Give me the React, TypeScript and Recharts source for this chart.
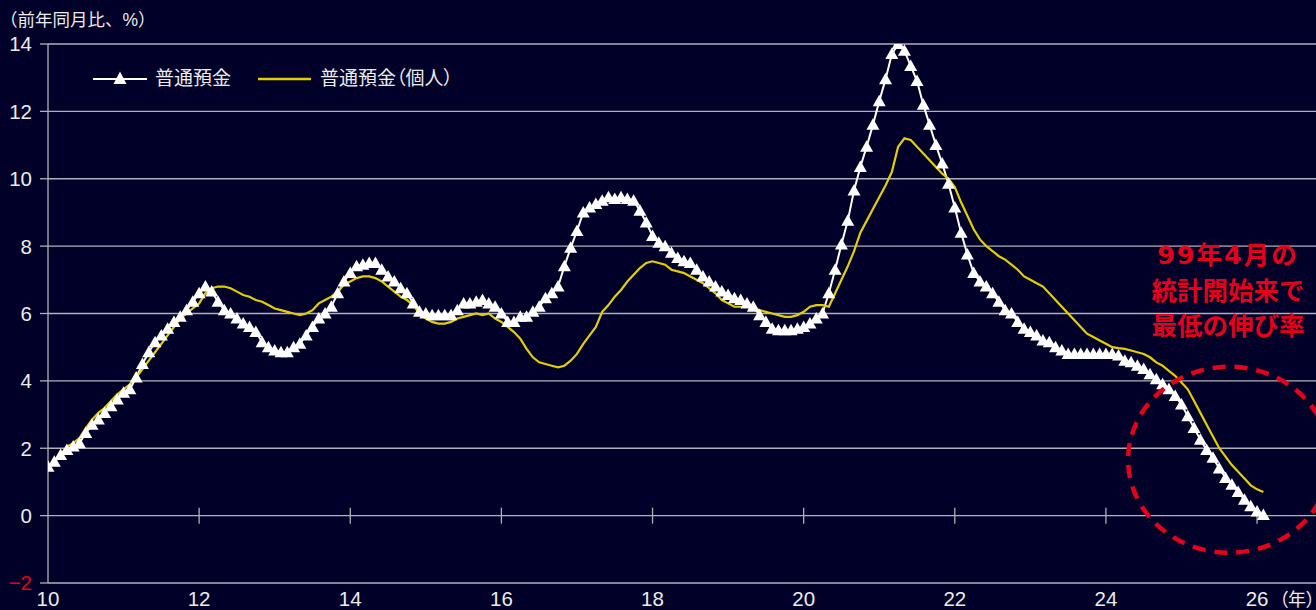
import React from 'react';
import { LineChart, Line, XAxis, YAxis, CartesianGrid, ReferenceDot } from 'recharts';

// ---- data (monthly, Jan 2010 .. Feb 2026), 前年同月比 % ----
const START_YEAR = 10;

const ordinaryDeposits = [
  1.45, 1.6, 1.8, 1.95, 2.05, 2.15, 2.45, 2.7, 2.85, 3.05,
  3.25, 3.45, 3.65, 3.75, 4.1, 4.5, 4.85, 5.15, 5.35, 5.55,
  5.75, 5.9, 6.1, 6.35, 6.6, 6.8, 6.65, 6.35, 6.1, 6.0,
  5.85, 5.7, 5.6, 5.45, 5.15, 5.0, 4.9, 4.85, 4.85, 5.0,
  5.1, 5.35, 5.6, 5.85, 6.0, 6.2, 6.6, 6.95, 7.2, 7.4,
  7.45, 7.5, 7.5, 7.3, 7.1, 6.95, 6.75, 6.6, 6.3, 6.05,
  6.0, 5.95, 5.95, 5.95, 5.95, 6.1, 6.3, 6.3, 6.35, 6.4,
  6.3, 6.2, 6.0, 5.75, 5.75, 5.9, 5.9, 6.05, 6.2, 6.45,
  6.6, 6.8, 7.4, 7.95, 8.45, 9.0, 9.15, 9.25, 9.35, 9.45,
  9.4, 9.45, 9.4, 9.35, 9.05, 8.7, 8.3, 8.1, 8.0, 7.8,
  7.65, 7.55, 7.5, 7.3, 7.1, 6.95, 6.8, 6.65, 6.55, 6.45,
  6.4, 6.3, 6.2, 5.95, 5.75, 5.55, 5.5, 5.5, 5.5, 5.55,
  5.6, 5.7, 5.85, 6.0, 6.6, 7.3, 8.05, 8.75, 9.65, 10.35,
  10.95, 11.6, 12.3, 12.95, 13.7, 14.0, 13.8, 13.35, 12.9, 12.2,
  11.6, 11.0, 10.45, 9.85, 9.15, 8.4, 7.75, 7.2, 6.95, 6.8,
  6.6, 6.35, 6.1, 6.0, 5.75, 5.55, 5.45, 5.35, 5.2, 5.15,
  5.0, 4.9, 4.8, 4.8, 4.8, 4.8, 4.8, 4.8, 4.8, 4.8,
  4.75, 4.6, 4.55, 4.45, 4.35, 4.2, 4.05, 3.9, 3.75, 3.55,
  3.3, 2.95, 2.6, 2.25, 1.95, 1.72, 1.4, 1.12, 0.92, 0.7,
  0.47, 0.28, 0.12, 0.02,
];

const personalDeposits = [
  1.45, 1.6, 1.8, 2.05, 2.15, 2.3, 2.6, 2.85, 3.05, 3.2,
  3.4, 3.6, 3.75, 3.9, 4.1, 4.35, 4.6, 4.85, 5.1, 5.35,
  5.6, 5.85, 6.0, 6.15, 6.3, 6.6, 6.75, 6.8, 6.8, 6.75,
  6.65, 6.55, 6.5, 6.4, 6.35, 6.25, 6.15, 6.1, 6.05, 6.0,
  5.95, 6.0, 6.1, 6.3, 6.4, 6.5, 6.65, 6.85, 6.95, 7.05,
  7.1, 7.1, 7.05, 6.95, 6.8, 6.65, 6.5, 6.4, 6.25, 6.0,
  5.85, 5.75, 5.7, 5.7, 5.75, 5.85, 5.9, 5.95, 6.0, 5.95,
  6.0, 5.85, 5.75, 5.6, 5.45, 5.25, 4.95, 4.7, 4.55, 4.5,
  4.45, 4.4, 4.45, 4.6, 4.8, 5.1, 5.35, 5.6, 6.05, 6.25,
  6.5, 6.7, 6.95, 7.15, 7.35, 7.5, 7.55, 7.5, 7.45, 7.3,
  7.25, 7.2, 7.1, 7.0, 6.9, 6.75, 6.6, 6.4, 6.3, 6.2,
  6.2, 6.2, 6.15, 6.1, 6.05, 6.0, 5.95, 5.9, 5.9, 5.95,
  6.05, 6.2, 6.25, 6.25, 6.2, 6.6, 7.0, 7.4, 7.85, 8.4,
  8.75, 9.1, 9.45, 9.8, 10.2, 10.95, 11.2, 11.15, 10.95, 10.75,
  10.55, 10.35, 10.15, 10.0, 9.75, 9.3, 8.9, 8.5, 8.2, 8.0,
  7.85, 7.7, 7.6, 7.45, 7.3, 7.1, 7.0, 6.9, 6.8, 6.6,
  6.4, 6.2, 6.0, 5.8, 5.6, 5.4, 5.3, 5.2, 5.1, 5.0,
  4.97, 4.95, 4.9, 4.85, 4.8, 4.7, 4.55, 4.45, 4.3, 4.15,
  3.95, 3.75, 3.4, 3.05, 2.7, 2.35, 2.0, 1.75, 1.5, 1.3,
  1.1, 0.9, 0.78, 0.7,
];

const xTicks = [10, 12, 14, 16, 18, 20, 22, 24, 26];
const yTicks = [-2, 0, 2, 4, 6, 8, 10, 12, 14];
const zeroLineTickYears = [12, 14, 16, 18, 20, 22, 24, 26];
const seriesNames = ['普通預金', '普通預金（個人）'];
const yAxisTitle = '（前年同月比、%）';
const xUnitLabel = '（年）';
const noteLines = ['99年4月の', '統計開始来で', '最低の伸び率'];
const noteCircleCenter = { yr: 25.63, value: 1.66 };
const X_MAX = 26.78;

// ---- styles ----
const BG = '#000029';
const GRID = '#b0b0ba';
const TXT = '#ececec';
const YELLOW = '#e3cf00';
const RED = '#e5001b';
const FONT = '"Liberation Sans", "Noto Sans CJK JP", sans-serif';

const data = ordinaryDeposits.map((v, i) => ({
  yr: START_YEAR + i / 12,
  ordinary: v,
  personal: personalDeposits[i],
}));

const Triangle = (props: any) => {
  const { cx, cy, index } = props;
  if (cx == null || cy == null) return <g key={`t-${index}`} />;
  return (
    <polygon
      key={`t-${index}`}
      points={`${cx},${cy - 6.5} ${cx - 6.5},${cy + 5} ${cx + 6.5},${cy + 5}`}
      fill="#ffffff"
    />
  );
};

const XTick = (props: any) => {
  const { x, y, payload } = props;
  return (
    <g>
      <text x={x} y={y + 21} textAnchor="middle" fill={TXT} fontSize={20.5} fontFamily={FONT}>
        {payload.value}
      </text>
      {payload.value === 26 && (
        <text
          x={x + 22}
          y={y + 21}
          textAnchor="start"
          fill={TXT}
          fontSize={18}
          fontFamily={FONT}
          style={{ fontFeatureSettings: '"palt"' }}
        >
          {xUnitLabel}
        </text>
      )}
    </g>
  );
};

const YTick = (props: any) => {
  const { x, y, payload } = props;
  const neg = payload.value < 0;
  return (
    <text
      x={x}
      y={y}
      dy="0.36em"
      textAnchor="end"
      fill={neg ? RED : TXT}
      fontSize={20.5}
      fontFamily={FONT}
    >
      {neg ? `−${Math.abs(payload.value)}` : payload.value}
    </text>
  );
};

export default function App() {
  return (
    <div
      style={{
        position: 'absolute',
        left: 0,
        top: 0,
        width: 1316,
        height: 610,
        background: BG,
        overflow: 'hidden',
        fontFamily: FONT,
      }}
    >
      <LineChart
        width={1316}
        height={610}
        data={data}
        margin={{ top: 44, right: 0, left: 0, bottom: 0 }}
      >
        <CartesianGrid horizontal vertical={false} stroke={GRID} strokeWidth={1.3} />
        <XAxis
          type="number"
          dataKey="yr"
          domain={[START_YEAR, X_MAX]}
          ticks={xTicks}
          interval={0}
          height={27}
          axisLine={false}
          tickLine={false}
          tickSize={0}
          tickMargin={2}
          tick={<XTick />}
          allowDataOverflow
        />
        <YAxis
          type="number"
          domain={[-2, 14]}
          ticks={yTicks}
          interval={0}
          width={48}
          axisLine={{ stroke: GRID, strokeWidth: 1.3 }}
          tickLine={{ stroke: GRID, strokeWidth: 1.3 }}
          tickSize={8}
          tickMargin={8}
          tick={<YTick />}
          allowDataOverflow
        />
        {zeroLineTickYears.map((yr) => (
          <ReferenceDot
            key={`zt-${yr}`}
            x={yr}
            y={0}
            r={0}
            shape={(p: any) => (
              <line x1={p.cx} x2={p.cx} y1={p.cy - 8} y2={p.cy + 8} stroke={GRID} strokeWidth={1.3} />
            )}
          />
        ))}
        <Line
          type="linear"
          dataKey="ordinary"
          stroke="#ffffff"
          strokeWidth={2}
          dot={Triangle}
          activeDot={false}
          isAnimationActive={false}
        />
        <Line
          type="linear"
          dataKey="personal"
          stroke={YELLOW}
          strokeWidth={2.2}
          dot={false}
          activeDot={false}
          isAnimationActive={false}
        />
        <ReferenceDot
          x={noteCircleCenter.yr}
          y={noteCircleCenter.value}
          r={0}
          shape={(p: any) => (
            <ellipse
              cx={p.cx}
              cy={p.cy}
              rx={101}
              ry={93}
              fill="none"
              stroke={RED}
              strokeWidth={4.5}
              strokeDasharray="13 9"
            />
          )}
        />
      </LineChart>

      {/* y-axis title */}
      <div
        style={{
          position: 'absolute',
          left: 0,
          top: 8,
          fontSize: 17.5,
          color: TXT,
          lineHeight: '24px',
          whiteSpace: 'nowrap',
        }}
      >
        {yAxisTitle}
      </div>

      {/* legend */}
      <div style={{ position: 'absolute', left: 0, top: 0 }}>
        <svg width={480} height={100} style={{ position: 'absolute', left: 0, top: 0 }}>
          <line x1={93} x2={147} y1={79} y2={79} stroke="#ffffff" strokeWidth={2} />
          <polygon points="120,71.5 113.5,84 126.5,84" fill="#ffffff" />
          <line x1={258} x2={311} y1={79} y2={79} stroke={YELLOW} strokeWidth={2.4} />
        </svg>
        <div
          style={{
            position: 'absolute',
            left: 155,
            top: 66,
            fontSize: 19,
            lineHeight: '26px',
            color: TXT,
            whiteSpace: 'nowrap',
          }}
        >
          {seriesNames[0]}
        </div>
        <div
          style={{
            position: 'absolute',
            left: 320,
            top: 66,
            fontSize: 19,
            lineHeight: '26px',
            color: TXT,
            whiteSpace: 'nowrap',
            fontFeatureSettings: '"palt"',
          }}
        >
          {seriesNames[1]}
        </div>
      </div>

      {/* annotation */}
      <div
        style={{
          position: 'absolute',
          left: 1128,
          top: 238,
          width: 200,
          textAlign: 'center',
          color: RED,
          fontWeight: 700,
          fontSize: 25.5,
          lineHeight: '35.5px',
          whiteSpace: 'nowrap',
          fontFamily: '"DejaVu Sans", "Noto Sans CJK JP", sans-serif',
        }}
      >
        {noteLines.map((l, i) => (
          <div key={l} style={i === 0 ? { letterSpacing: 2 } : undefined}>
            {l}
          </div>
        ))}
      </div>
    </div>
  );
}
